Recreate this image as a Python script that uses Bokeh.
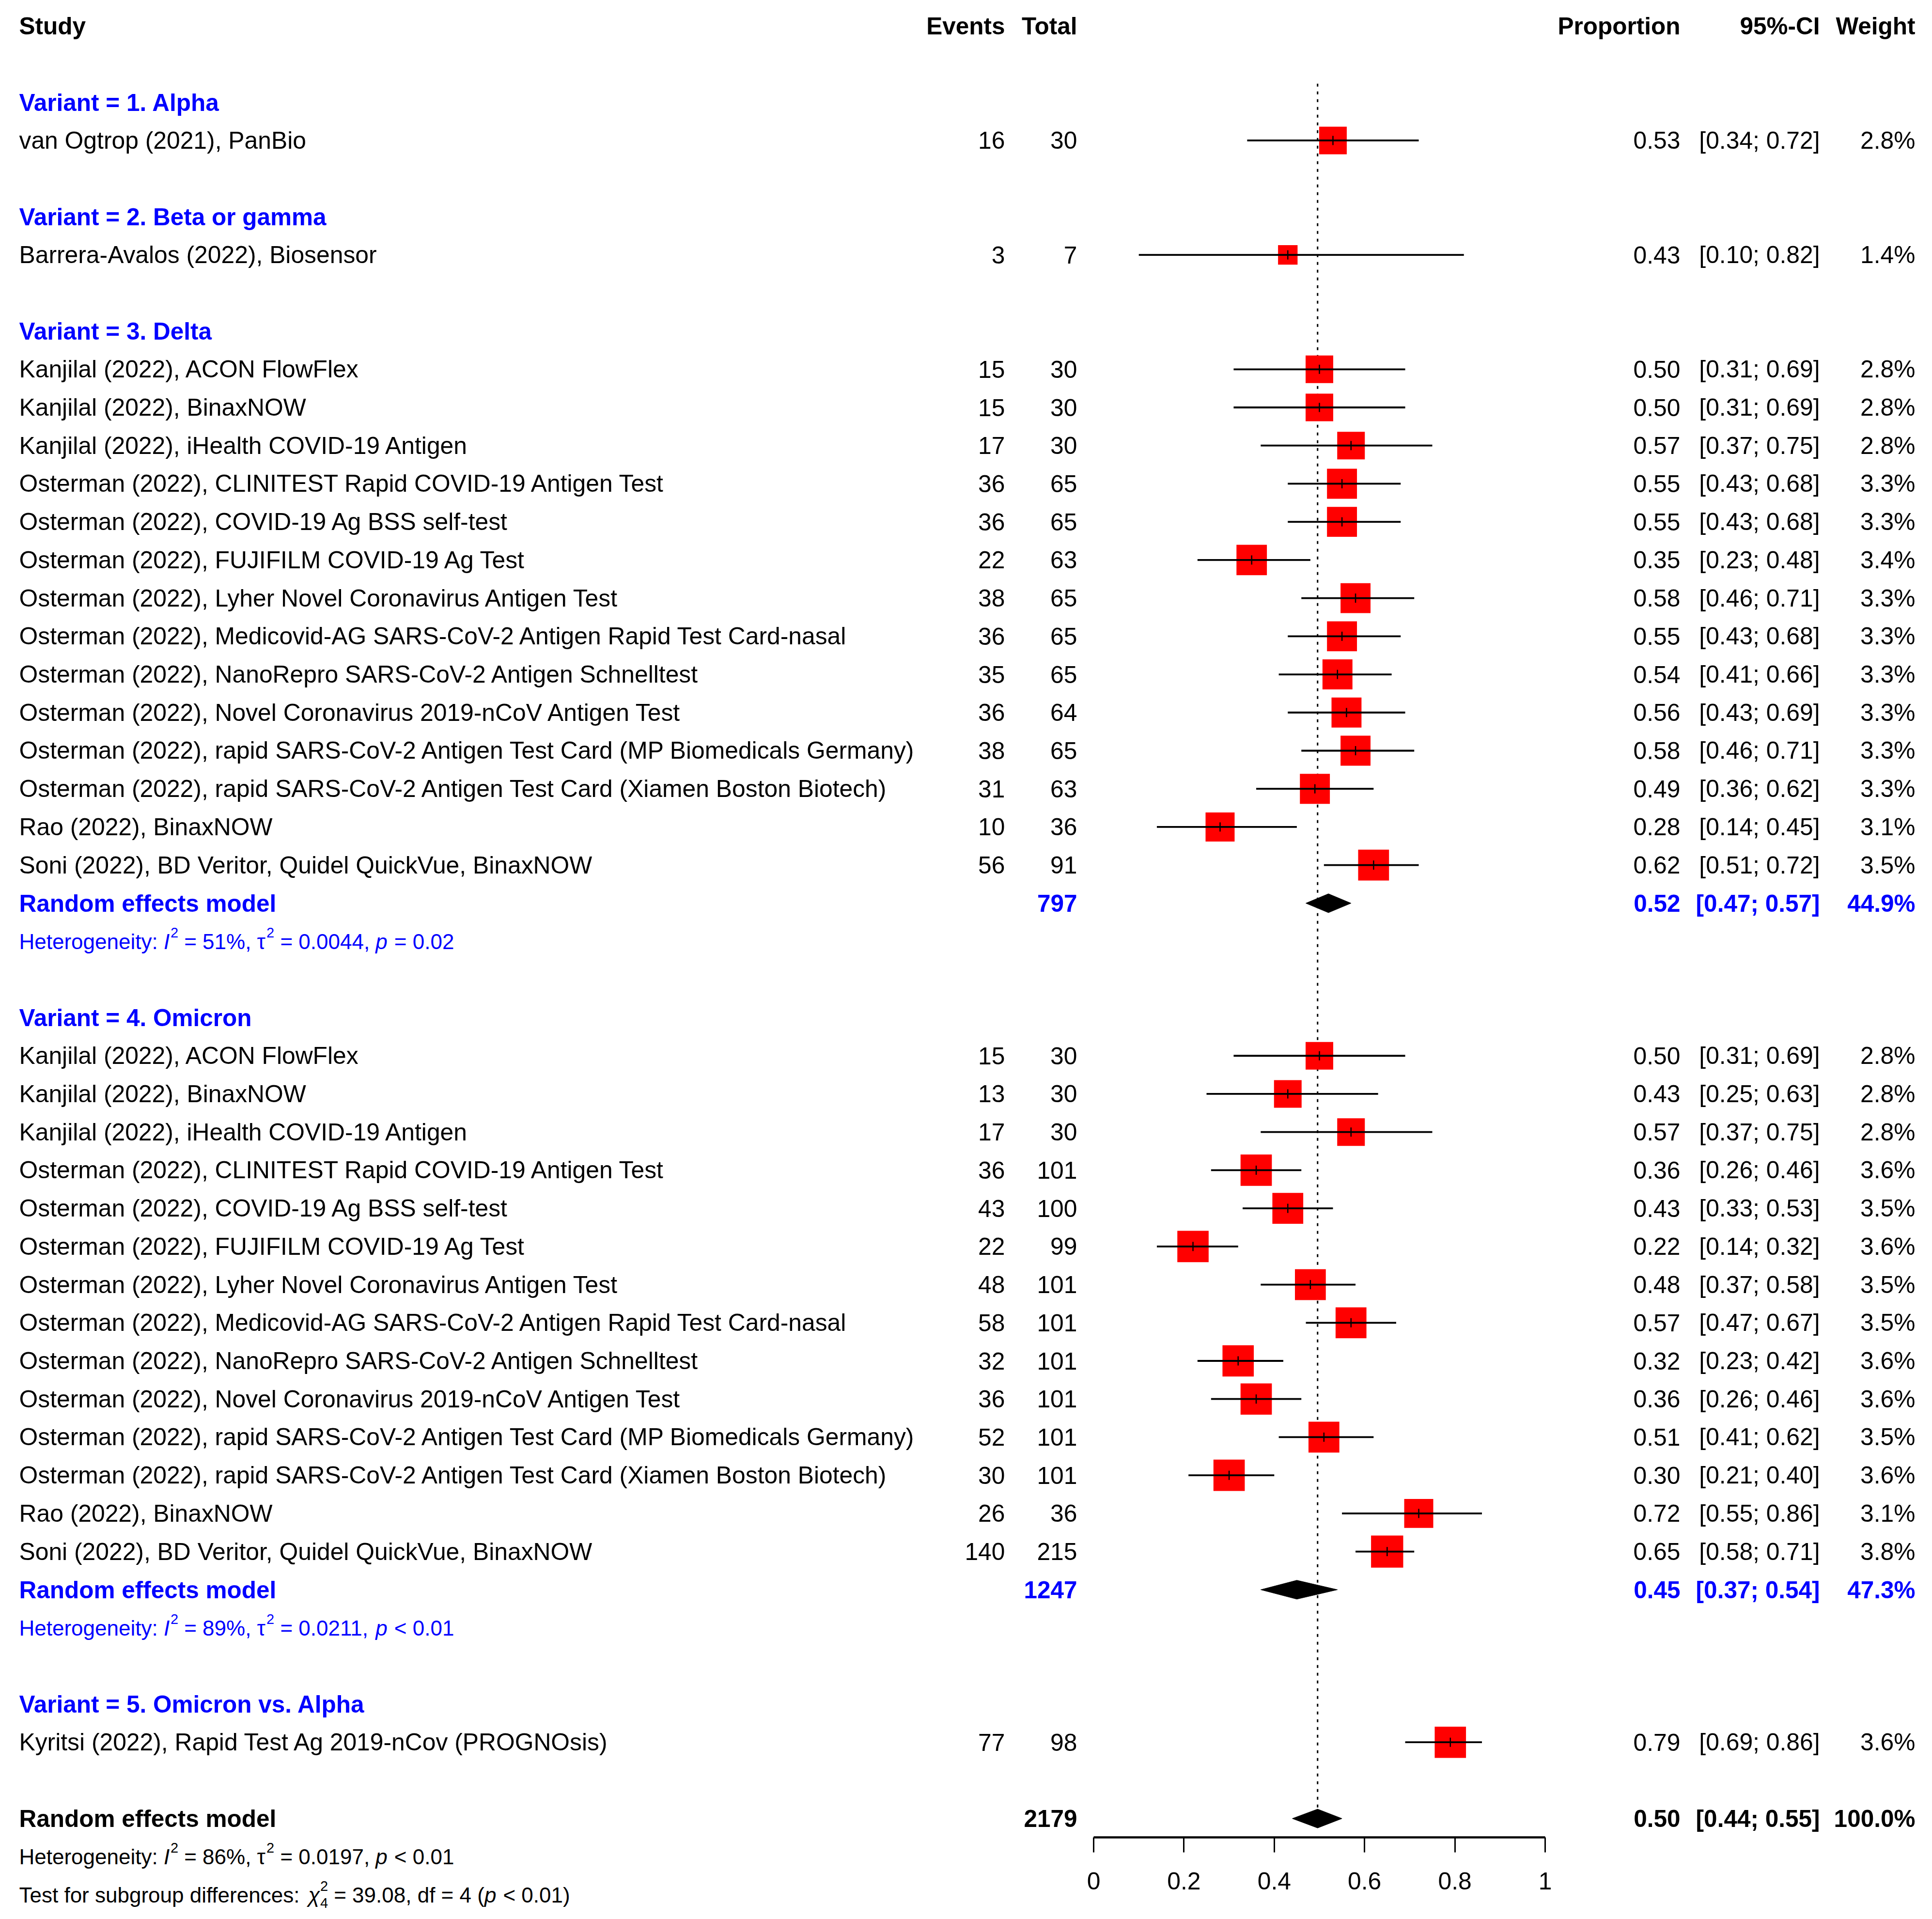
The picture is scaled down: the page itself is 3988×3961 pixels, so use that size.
import math
from bokeh.plotting import figure
from bokeh.models import Range1d, ColumnDataSource, FixedTicker, CustomJSTickFormatter
from bokeh.core.properties import value
from bokeh.embed import file_html
from bokeh.resources import INLINE

# ---------------------------------------------------------------- data
col_headers = ["Study", "Events", "Total", "Proportion", "95%-CI", "Weight"]
variant_labels = ["Variant = 1. Alpha", "Variant = 2. Beta or gamma", "Variant = 3. Delta",
                  "Variant = 4. Omicron", "Variant = 5. Omicron vs. Alpha"]

study_variant = [0, 1] + [2] * 14 + [3] * 14 + [4]
study_names = [
    "van Ogtrop (2021), PanBio",
    "Barrera-Avalos (2022), Biosensor",
    "Kanjilal (2022), ACON FlowFlex",
    "Kanjilal (2022), BinaxNOW",
    "Kanjilal (2022), iHealth COVID-19 Antigen",
    "Osterman (2022), CLINITEST Rapid COVID-19 Antigen Test",
    "Osterman (2022), COVID-19 Ag BSS self-test",
    "Osterman (2022), FUJIFILM COVID-19 Ag Test",
    "Osterman (2022), Lyher Novel Coronavirus Antigen Test",
    "Osterman (2022), Medicovid-AG SARS-CoV-2 Antigen Rapid Test Card-nasal",
    "Osterman (2022), NanoRepro SARS-CoV-2 Antigen Schnelltest",
    "Osterman (2022), Novel Coronavirus 2019-nCoV Antigen Test",
    "Osterman (2022), rapid SARS-CoV-2 Antigen Test Card (MP Biomedicals Germany)",
    "Osterman (2022), rapid SARS-CoV-2 Antigen Test Card (Xiamen Boston Biotech)",
    "Rao (2022), BinaxNOW",
    "Soni (2022), BD Veritor, Quidel QuickVue, BinaxNOW",
    "Kanjilal (2022), ACON FlowFlex",
    "Kanjilal (2022), BinaxNOW",
    "Kanjilal (2022), iHealth COVID-19 Antigen",
    "Osterman (2022), CLINITEST Rapid COVID-19 Antigen Test",
    "Osterman (2022), COVID-19 Ag BSS self-test",
    "Osterman (2022), FUJIFILM COVID-19 Ag Test",
    "Osterman (2022), Lyher Novel Coronavirus Antigen Test",
    "Osterman (2022), Medicovid-AG SARS-CoV-2 Antigen Rapid Test Card-nasal",
    "Osterman (2022), NanoRepro SARS-CoV-2 Antigen Schnelltest",
    "Osterman (2022), Novel Coronavirus 2019-nCoV Antigen Test",
    "Osterman (2022), rapid SARS-CoV-2 Antigen Test Card (MP Biomedicals Germany)",
    "Osterman (2022), rapid SARS-CoV-2 Antigen Test Card (Xiamen Boston Biotech)",
    "Rao (2022), BinaxNOW",
    "Soni (2022), BD Veritor, Quidel QuickVue, BinaxNOW",
    "Kyritsi (2022), Rapid Test Ag 2019-nCov (PROGNOsis)",
]
study_events = [16, 3,
                15, 15, 17, 36, 36, 22, 38, 36, 35, 36, 38, 31, 10, 56,
                15, 13, 17, 36, 43, 22, 48, 58, 32, 36, 52, 30, 26, 140,
                77]
study_totals = [30, 7,
                30, 30, 30, 65, 65, 63, 65, 65, 65, 64, 65, 63, 36, 91,
                30, 30, 30, 101, 100, 99, 101, 101, 101, 101, 101, 101, 36, 215,
                98]
study_prop = [0.53, 0.43,
              0.50, 0.50, 0.57, 0.55, 0.55, 0.35, 0.58, 0.55, 0.54, 0.56, 0.58, 0.49, 0.28, 0.62,
              0.50, 0.43, 0.57, 0.36, 0.43, 0.22, 0.48, 0.57, 0.32, 0.36, 0.51, 0.30, 0.72, 0.65,
              0.79]
study_lower = [0.34, 0.10,
               0.31, 0.31, 0.37, 0.43, 0.43, 0.23, 0.46, 0.43, 0.41, 0.43, 0.46, 0.36, 0.14, 0.51,
               0.31, 0.25, 0.37, 0.26, 0.33, 0.14, 0.37, 0.47, 0.23, 0.26, 0.41, 0.21, 0.55, 0.58,
               0.69]
study_upper = [0.72, 0.82,
               0.69, 0.69, 0.75, 0.68, 0.68, 0.48, 0.71, 0.68, 0.66, 0.69, 0.71, 0.62, 0.45, 0.72,
               0.69, 0.63, 0.75, 0.46, 0.53, 0.32, 0.58, 0.67, 0.42, 0.46, 0.62, 0.40, 0.86, 0.71,
               0.86]
study_weight = [2.8, 1.4,
                2.8, 2.8, 2.8, 3.3, 3.3, 3.4, 3.3, 3.3, 3.3, 3.3, 3.3, 3.3, 3.1, 3.5,
                2.8, 2.8, 2.8, 3.6, 3.5, 3.6, 3.5, 3.5, 3.6, 3.6, 3.5, 3.6, 3.1, 3.8,
                3.6]

# random effects results of the subgroups with more than one study
pooled_variant = [2, 3]
pooled_total = [797, 1247]
pooled_prop = [0.52, 0.45]
pooled_lower = [0.47, 0.37]
pooled_upper = [0.57, 0.54]
pooled_weight = [44.9, 47.3]
pooled_i2 = ["51%", "89%"]
pooled_tau2 = ["0.0044", "0.0211"]
pooled_p = ["= 0.02", "< 0.01"]

overall_total = 2179
overall_prop = 0.496
overall_lower = 0.44
overall_upper = 0.55
overall_weight = 100.0
overall_i2 = "86%"
overall_tau2 = "0.0197"
overall_p = "< 0.01"
subgroup_chi2 = "39.08"
subgroup_df = "4"
subgroup_p = "< 0.01"

tick_values = [0, 0.2, 0.4, 0.6, 0.8, 1]
tick_labels = ["0", "0.2", "0.4", "0.6", "0.8", "1"]

# ---------------------------------------------------------------- layout
FONT = "Liberation Sans"
BLUE = "#0000FF"
RED = "#FF0000"
W, H = 3972, 3945
OFF = 0                 # offset of the figure in the screenshot
X0, XU = 2257.0, 932.0  # reference px of proportion 0, px per unit
R0, RH = 53.3, 78.72    # reference px of row 0 centre, px per row
FS = 49.8               # main font size (px)
BFS = 49.5              # bold font size
HFS = 44.0              # heterogeneity font size
SFS = 29                # script size


def xd(ref_px):
    return (ref_px - X0) / XU


x_range = Range1d(xd(OFF), xd(OFF + W))
y_range = Range1d(start=(OFF + H - R0) / RH, end=(OFF - R0) / RH)

p = figure(width=W, height=H, x_range=x_range, y_range=y_range,
           output_backend="svg", toolbar_location=None, min_border=0,
           y_axis_location=None, outline_line_color=None,
           background_fill_color="white", border_fill_color="white")
p.grid.visible = False

# row assignment
group_row = []
study_row = [0] * len(study_names)
pooled_row = {}
r = 2
for g in range(len(variant_labels)):
    group_row.append(r)
    r += 1
    for i, v in enumerate(study_variant):
        if v == g:
            study_row[i] = r
            r += 1
    if g in pooled_variant:
        pooled_row[g] = r
        r += 2
    r += 1
overall_row = r

COL_STUDY, COL_EV, COL_TOT, COL_PROP, COL_CI, COL_W = 39, 2074, 2223, 3468, 3756, 3953


def put_text(xref, ys, texts, align="left", bold=False, color="black"):
    size = BFS if bold else FS
    src = ColumnDataSource(dict(x=[xd(xref)] * len(ys), y=list(ys), t=list(texts)))
    p.text(x="x", y="y", text="t", source=src, text_align=align,
           text_baseline="alphabetic", y_offset=0,
           text_font=value(FONT), text_font_size=f"{size}px",
           text_font_style="bold" if bold else "normal", text_color=color)


def fmt_ci(lo, hi):
    return f"[{lo:.2f}; {hi:.2f}]"


# header
put_text(COL_STUDY, [0], [col_headers[0]], "left", True)
for xr, t in zip([COL_EV, COL_TOT, COL_PROP, COL_CI, COL_W], col_headers[1:]):
    put_text(xr, [0], [t], "right", True)

# subgroup headers
put_text(COL_STUDY, group_row, variant_labels, "left", True, BLUE)

# studies
put_text(COL_STUDY, study_row, study_names, "left")
put_text(COL_EV, study_row, [str(e) for e in study_events], "right")
put_text(COL_TOT, study_row, [str(t) for t in study_totals], "right")
put_text(COL_PROP, study_row, [f"{v:.2f}" for v in study_prop], "right")
put_text(COL_CI, study_row, [fmt_ci(a, b) for a, b in zip(study_lower, study_upper)], "right")
put_text(COL_W, study_row, [f"{w:.1f}%" for w in study_weight], "right")

# subgroup pooled rows
prow = [pooled_row[g] for g in pooled_variant]
put_text(COL_STUDY, prow, ["Random effects model"] * len(prow), "left", True, BLUE)
put_text(COL_TOT, prow, [str(t) for t in pooled_total], "right", True, BLUE)
put_text(COL_PROP, prow, [f"{v:.2f}" for v in pooled_prop], "right", True, BLUE)
put_text(COL_CI, prow, [fmt_ci(a, b) for a, b in zip(pooled_lower, pooled_upper)], "right", True, BLUE)
put_text(COL_W, prow, [f"{w:.1f}%" for w in pooled_weight], "right", True, BLUE)

# overall row
put_text(COL_STUDY, [overall_row], ["Random effects model"], "left", True)
put_text(COL_TOT, [overall_row], [str(overall_total)], "right", True)
put_text(COL_PROP, [overall_row], [f"{overall_prop:.2f}"], "right", True)
put_text(COL_CI, [overall_row], [fmt_ci(overall_lower, overall_upper)], "right", True)
put_text(COL_W, [overall_row], [f"{overall_weight:.1f}%"], "right", True)

# ---------------------------------------------------------------- heterogeneity (math-like) lines
WID = {' ': 278, '%': 889, '(': 333, ')': 333, ',': 278, '-': 333, '.': 278, ':': 278,
       ';': 278, '<': 584, '=': 584, '>': 584, 'τ': 440, 'χ': 520,
       'A': 667, 'B': 667, 'C': 722, 'D': 722, 'E': 667, 'F': 611, 'G': 778, 'H': 722,
       'I': 278, 'J': 500, 'K': 667, 'L': 556, 'M': 833, 'N': 722, 'O': 778, 'P': 667,
       'R': 722, 'S': 667, 'T': 611, 'U': 722, 'V': 667, 'W': 944,
       'a': 556, 'b': 556, 'c': 500, 'd': 556, 'e': 556, 'f': 278, 'g': 556, 'h': 556,
       'i': 222, 'j': 222, 'k': 500, 'l': 222, 'm': 833, 'n': 556, 'o': 556, 'p': 556,
       'q': 556, 'r': 333, 's': 500, 't': 278, 'u': 556, 'v': 500, 'w': 722, 'x': 500,
       'y': 500, 'z': 500}
for d in "0123456789":
    WID[d] = 556


def tw(s, size):
    return sum(WID.get(c, 556) for c in s) / 1000.0 * size


het = dict(x=[], y=[], t=[], xo=[], yo=[], fs=[], st=[], col=[])


def add_math_line(parts, row, color):
    cur = 0.0
    sup_start, sup_w = 0.0, 0.0
    for text, kind in parts:
        if kind in ("n", "i"):
            size, yo, x_here = HFS, 0, cur
            w = tw(text, size)
            cur = x_here + w + (0.04 * HFS if kind == "i" else 0)
        elif kind == "sup":
            size, yo, x_here = SFS, -18, cur
            w = tw(text, size)
            sup_start, sup_w = x_here, w
            cur = x_here + w
        else:  # subscript stacked under previous superscript
            size, yo, x_here = SFS, 17, sup_start
            w = tw(text, size)
            cur = sup_start + max(sup_w, w)
        lead = len(text) - len(text.lstrip(" "))
        het["x"].append(xd(COL_STUDY))
        het["y"].append(row)
        het["t"].append(text.strip(" "))
        het["xo"].append(round(x_here + tw(" " * lead, size), 1))
        het["yo"].append(yo)
        het["fs"].append(f"{size}px")
        het["st"].append("italic" if kind == "i" else "normal")
        het["col"].append(color)


def het_parts(i2, tau2, pv):
    return [("Heterogeneity: ", "n"), ("I", "i"), ("2", "sup"), (f" = {i2}, ", "n"),
            ("τ", "n"), ("2", "sup"), (f" = {tau2}, ", "n"), ("p", "i"),
            (f" {pv}", "n")]


for g, i2, tau2, pv in zip(pooled_variant, pooled_i2, pooled_tau2, pooled_p):
    add_math_line(het_parts(i2, tau2, pv), pooled_row[g] + 1, BLUE)
add_math_line(het_parts(overall_i2, overall_tau2, overall_p), overall_row + 1, "black")
add_math_line([("Test for subgroup differences: ", "n"), ("χ", "i"), ("2", "sup"),
               (subgroup_df, "sub"), (f" = {subgroup_chi2}, df = {subgroup_df} (", "n"),
               ("p", "i"), (f" {subgroup_p})", "n")], overall_row + 2, "black")

p.text(x="x", y="y", text="t", source=ColumnDataSource(het), x_offset="xo", y_offset="yo",
       text_font=value(FONT), text_font_size="fs", text_font_style="st", text_color="col",
       text_align="left", text_baseline="alphabetic")

# ---------------------------------------------------------------- graphics
# reference line (pooled overall estimate)
p.segment(x0=[overall_prop], y0=[group_row[0] - 0.49], x1=[overall_prop],
          y1=[overall_row - 0.25], line_color="black", line_width=3, line_dash="6 10")

# study boxes (side proportional to sqrt(weight))
box_side = [34.06 * math.sqrt(w) for w in study_weight]
tick_h = 9.5 / RH
study_src = ColumnDataSource(dict(x=study_prop, y=study_row, lo=study_lower, hi=study_upper,
                                  side=box_side,
                                  yt=[y - tick_h for y in study_row],
                                  yb=[y + tick_h for y in study_row]))
p.scatter(x="x", y="y", size="side", marker="square", source=study_src,
          fill_color=RED, line_color=None)
p.segment(x0="lo", y0="y", x1="hi", y1="y", source=study_src, line_color="black", line_width=3.8)
p.segment(x0="x", y0="yt", x1="x", y1="yb", source=study_src, line_color="black", line_width=2.5)

# diamonds
dh = 19.5 / RH
d_xs, d_ys = [], []
for g, est, lo, hi in zip(pooled_variant, pooled_prop, pooled_lower, pooled_upper):
    rr = pooled_row[g]
    d_xs.append([lo, est, hi, est])
    d_ys.append([rr, rr - dh, rr, rr + dh])
d_xs.append([overall_lower, overall_prop, overall_upper, overall_prop])
d_ys.append([overall_row, overall_row - dh, overall_row, overall_row + dh])
p.patches(xs=d_xs, ys=d_ys, fill_color="black", line_color="black", line_width=1)

# ---------------------------------------------------------------- x axis
ax = p.xaxis[0]
ax.fixed_location = (3792 - R0) / RH
ax.bounds = (tick_values[0], tick_values[-1])
ax.ticker = FixedTicker(ticks=tick_values, minor_ticks=[])
ax.formatter = CustomJSTickFormatter(args=dict(vals=tick_values, labs=tick_labels), code="""
for (let i = 0; i < vals.length; i++) { if (Math.abs(vals[i] - tick) < 1e-9) return labs[i]; }
return '';
""")
ax.axis_line_width = 4.5
ax.axis_line_color = "black"
ax.major_tick_line_width = 3
ax.major_tick_line_color = "black"
ax.major_tick_out = 31
ax.major_tick_in = 0
ax.minor_tick_out = 0
ax.minor_tick_in = 0
ax.major_label_text_font = FONT
ax.major_label_text_font_size = f"{FS}px"
ax.major_label_text_color = "black"
ax.major_label_standoff = 41

open("out.html", "w").write(file_html(p, INLINE))
